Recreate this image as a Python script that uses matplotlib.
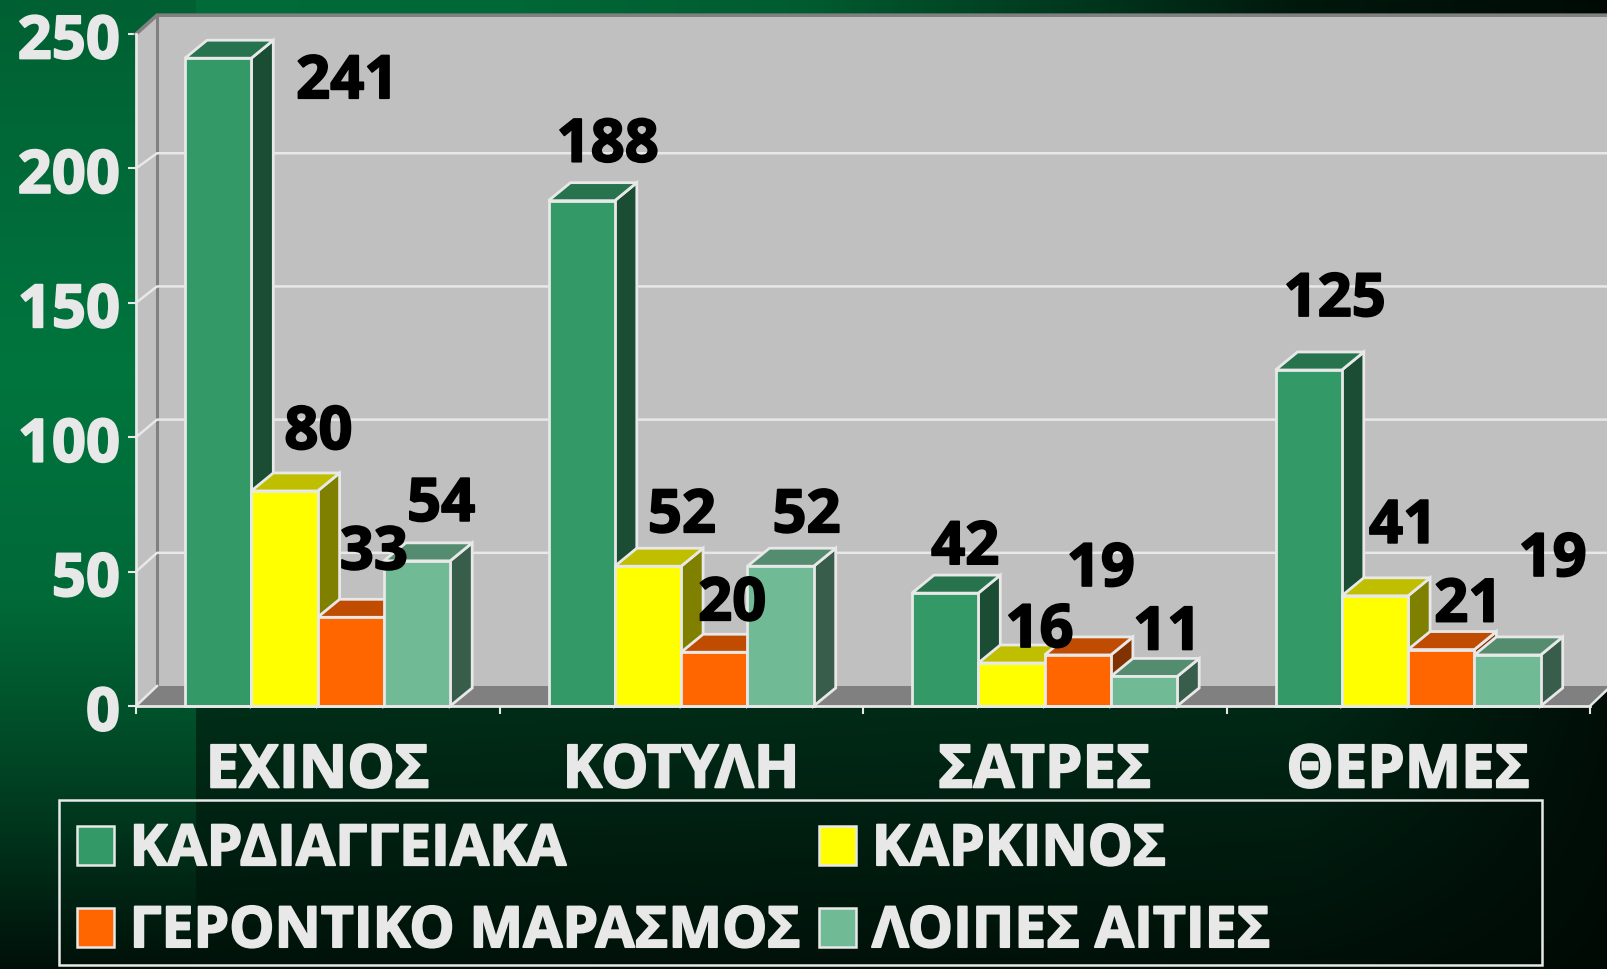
import numpy as np
import matplotlib
matplotlib.use('Agg')
import matplotlib.pyplot as plt
import matplotlib.patheffects as pe
from matplotlib.patches import Patch, Rectangle, Polygon
from matplotlib.transforms import ScaledTranslation

categories = ['ΕΧΙΝΟΣ', 'ΚΟΤΥΛΗ', 'ΣΑΤΡΕΣ', 'ΘΕΡΜΕΣ']
kardia = [241, 188, 42, 125]
karkinos = [80, 52, 16, 41]
gerontiko = [33, 20, 19, 21]
loipes = [54, 52, 11, 19]
series_names = ['ΚΑΡΔΙΑΓΓΕΙΑΚΑ', 'ΚΑΡΚΙΝΟΣ', 'ΓΕΡΟΝΤΙΚΟ ΜΑΡΑΣΜΟΣ', 'ΛΟΙΠΕΣ ΑΙΤΙΕΣ']
yticks = [0, 50, 100, 150, 200, 250]

front = ['#339966', '#ffff00', '#ff6600', '#70ba96']
side = ['#1a4d33', '#808000', '#803300', '#385d4b']
top = ['#26734d', '#bfbf00', '#bf4c00', '#548c70']
white = '#e8e8e8'

# label offsets from bar top centre, in pixels (the original labels were hand placed)
label_off = [
    [(129, -17), (26, 62), (20, 52), (26, 77)],
    [(34, 65), (34, 57), (28, 39), (28, 76)],
    [(23, 71), (18, 55), (23, 92), (27, 51)],
    [(24, 63), (26, 57), (23, 50), (45, 102)],
]

W, H = 1607, 969
FS = 43
LEG_FS = 41
plt.rcParams['font.family'] = ['Open Sans', 'DejaVu Sans']
plt.rcParams['font.weight'] = 'bold'


def heavy(color):
    # reference font is heavier than Open Sans bold
    return [pe.withStroke(linewidth=1.3, foreground=color)]


fig = plt.figure(figsize=(W / 100, H / 100), dpi=100)

# background, left strip has its own vertical gradient
bg_ax = fig.add_axes([0, 0, 1, 1], zorder=0)
yy = np.arange(H)
xx = np.arange(W)
strip = np.interp(yy, [0, 370, 600, 710, 800, 969], [96, 117, 105, 82, 60, 16])
row_top = np.interp(xx, [196, 500, 800, 1100, 1300, 1607], [107, 104, 92, 52, 24, 10])
row_low = np.interp(xx, [196, 1300, 1607], [46, 40, 14])
row_bot = np.interp(xx, [196, 1300, 1607], [18, 16, 10])
g = np.zeros((H, W))
for i in range(W):
    g[:, i] = np.interp(yy, [0, 30, 710, 969], [row_top[i], row_top[i], row_low[i], row_bot[i]])
g[:, :196] = strip[:, None]
img = np.dstack([np.zeros_like(g), g, g * 0.53]) / 255
bg_ax.imshow(img, aspect='auto', interpolation='nearest')
bg_ax.axis('off')

ax = fig.add_axes([136 / W, 1 - 706 / H, 1454 / W, 672 / H], zorder=1)
ax.set_xlim(0, 4)
ax.set_ylim(0, 250)
ax.patch.set_alpha(0)
px_x = 4 / 1454
px_y = 250 / 672

# walls and floor
wx, wy = 21 * px_x, 20 * px_y
wall_top = 257
ax.add_patch(Polygon([(wx, wy), (4.2, wy), (4.2, wall_top), (wx, wall_top)], fc='#c0c0c0', ec='none', clip_on=False, zorder=1))
ax.add_patch(Polygon([(0, 0), (wx, wy), (wx, wall_top), (0, 250)], fc='#c0c0c0', ec='none', clip_on=False, zorder=1))
ax.add_patch(Polygon([(0, 0), (4, 0), (4 + wx, wy), (4.2, wy), (wx, wy)], fc='#808080', ec='none', clip_on=False, zorder=1))
ax.plot([0, wx, wx, 4.2], [250, wall_top, wall_top, wall_top], color='#808080', lw=2.6, clip_on=False, zorder=2)
ax.plot([wx, wx], [wy, wall_top], color='#808080', lw=2.2, clip_on=False, zorder=2)
ax.plot([0, wx], [0, wy], color=white, lw=1.8, clip_on=False, zorder=2)
ax.plot([4, 4 + wx], [0, wy], color=white, lw=1.8, clip_on=False, zorder=2)
for v in yticks[1:-1]:
    back = v * 0.991 + wy
    ax.plot([0, wx, 4.2], [v, back, back], color=white, lw=1.8, clip_on=False, zorder=2)

# 3d bars
series = [kardia, karkinos, gerontiko, loipes]
bw = 66.3 * px_x
start = 49 * px_x
dx, dy = 22 * px_x, 18 * px_y
edge = 2
z = 3
for c in range(len(categories)):
    for s in range(4):
        v = series[s][c]
        x0 = c + start + s * bw
        x1 = x0 + bw
        ax.add_patch(Polygon([(x1, 0), (x1 + dx, dy), (x1 + dx, v + dy), (x1, v)], fc=side[s], ec=white, lw=edge, clip_on=False, zorder=z))
        ax.add_patch(Polygon([(x0, v), (x0 + dx, v + dy), (x1 + dx, v + dy), (x1, v)], fc=top[s], ec=white, lw=edge, clip_on=False, zorder=z))
        ax.bar(x0, v, bw, align='edge', color=front[s], edgecolor=white, lw=edge, clip_on=False, zorder=z + 0.5)
        z += 1

for s in range(4):
    for c in range(len(categories)):
        ax.annotate(str(series[s][c]), xy=(c + start + (s + 0.5) * bw, series[s][c]), xytext=label_off[s][c],
                    textcoords='offset pixels', ha='center', va='center_baseline', color='black',
                    fontsize=FS, fontweight='bold', zorder=100, annotation_clip=False,
                    path_effects=heavy('black'))

for sp in ['top', 'right']:
    ax.spines[sp].set_visible(False)
for sp in ['left', 'bottom']:
    ax.spines[sp].set_color(white)
    ax.spines[sp].set_linewidth(2)
    ax.spines[sp].set_zorder(90)

ax.set_yticks(yticks)
ax.set_yticklabels([str(v) for v in yticks], fontsize=FS, fontweight='bold', color=white, path_effects=heavy(white))
ax.tick_params(axis='y', colors=white, length=5.5, width=1.5, pad=6)
ax.set_xticks(range(5))
ax.set_xticklabels([])
ax.set_xticks(np.arange(4) + 0.5, minor=True)
ax.set_xticklabels(categories, minor=True, fontsize=FS, fontweight='bold', color=white, path_effects=heavy(white))
ax.tick_params(axis='x', which='major', colors=white, length=5.5, width=1.5)
ax.tick_params(axis='x', which='minor', length=0, pad=25.5)
shift = ScaledTranslation(0, -1.5 / 100, fig.dpi_scale_trans)
for lab in ax.get_yticklabels():
    lab.set_transform(lab.get_transform() + shift)

# legend box is wider than its contents, so it is drawn apart
fig.add_artist(Rectangle((59 / W, 1 - 965 / H), (1542 - 59) / W, (965 - 800) / H, transform=fig.transFigure,
                         fc='none', ec=white, lw=1.8, zorder=5))
handles = [Patch(fc=front[i], ec=white, lw=1.8) for i in [0, 2, 1, 3]]
labels = [series_names[i] for i in [0, 2, 1, 3]]
leg = fig.legend(handles, labels, ncol=2, loc='upper left', bbox_to_anchor=(59 / W, 1 - 803 / H), frameon=False,
                 labelcolor=white, handlelength=0.65, handleheight=0.68, handletextpad=0.27,
                 columnspacing=0.32, labelspacing=0.42, borderpad=0.32, borderaxespad=0,
                 prop={'size': LEG_FS, 'weight': 'bold'})
leg.set_zorder(6)
for t in leg.get_texts():
    t.set_path_effects(heavy(white))

fig.savefig('out.png', dpi=100)
